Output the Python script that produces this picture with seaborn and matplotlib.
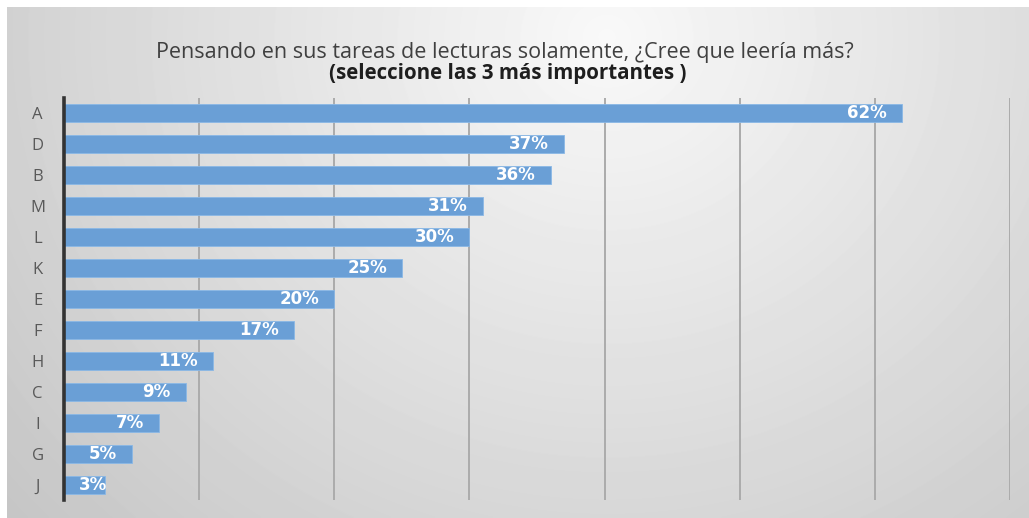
import matplotlib
matplotlib.use("Agg")
import matplotlib.pyplot as plt
import numpy as np
import pandas as pd
import seaborn as sns

# Data
categories = ["A", "D", "B", "M", "L", "K", "E", "F", "H", "C", "I", "G", "J"]
percentages = [62, 37, 36, 31, 30, 25, 20, 17, 11, 9, 7, 5, 3]
x_ticks = [0, 10, 20, 30, 40, 50, 60, 70]

df = pd.DataFrame({"category": categories, "value": percentages})

sns.set_style("white")
plt.rcParams["font.family"] = ["Open Sans", "DejaVu Sans"]

fig = plt.figure(figsize=(10.29, 5.18), dpi=100)
fig.patch.set_facecolor("white")

# Gradient panel behind the chart
bg = fig.add_axes([7 / 1029, 0, 1 - 7 / 1029, 1 - 7 / 518], zorder=0)
h, w = 511, 1022
yy, xx = np.mgrid[0:h, 0:w]
d = np.sqrt(((xx - 600) / 650.0) ** 2 + ((yy - 30) / 600.0) ** 2)
shade = np.clip(0.975 - 0.165 * d, 0.76, 1.0)
bg.imshow(shade, cmap="gray", vmin=0, vmax=1, aspect="auto", interpolation="bilinear")
bg.axis("off")

ax = fig.add_axes([64 / 1029, 1 - 500 / 518, (1010 - 64) / 1029, (500 - 98) / 518], zorder=1)
ax.patch.set_alpha(0)

sns.barplot(data=df, x="value", y="category", ax=ax, color="#6a9fd6",
            width=0.58, saturation=1, edgecolor="#8ab8e6", linewidth=0.6)

ax.set_xlim(0, 70)
ax.set_xticks(x_ticks)
ax.xaxis.grid(True, color="#ababab", linewidth=1.4)
ax.set_axisbelow(True)
ax.tick_params(axis="x", length=0, labelbottom=False)
ax.tick_params(axis="y", length=0, labelsize=12, labelcolor="#595959", pad=19)
for lbl in ax.get_yticklabels():
    lbl.set_horizontalalignment("center")
ax.set_xlabel("")
ax.set_ylabel("")
for side in ["top", "right", "bottom"]:
    ax.spines[side].set_visible(False)
ax.spines["left"].set_color("#333333")
ax.spines["left"].set_linewidth(2.6)

# value labels inside the bar end (short bars keep the label clear of the axis)
for i, v in enumerate(percentages):
    ax.text(max(v - 1.1, 3.2), i, f"{v}%", ha="right", va="center", color="white",
            fontsize=12, fontweight="bold", family="DejaVu Sans")

fig.text(505 / 1029, 1 - 58 / 518, "Pensando en sus tareas de lecturas solamente, ¿Cree que leería más?",
         ha="center", va="baseline", fontsize=15.5, color="#404040")
fig.text(508 / 1029, 1 - 78.5 / 518, "(seleccione las 3 más importantes )",
         ha="center", va="baseline", fontsize=14.8, fontweight="bold", color="#1e1e1e")

fig.savefig("out.png", dpi=100)
